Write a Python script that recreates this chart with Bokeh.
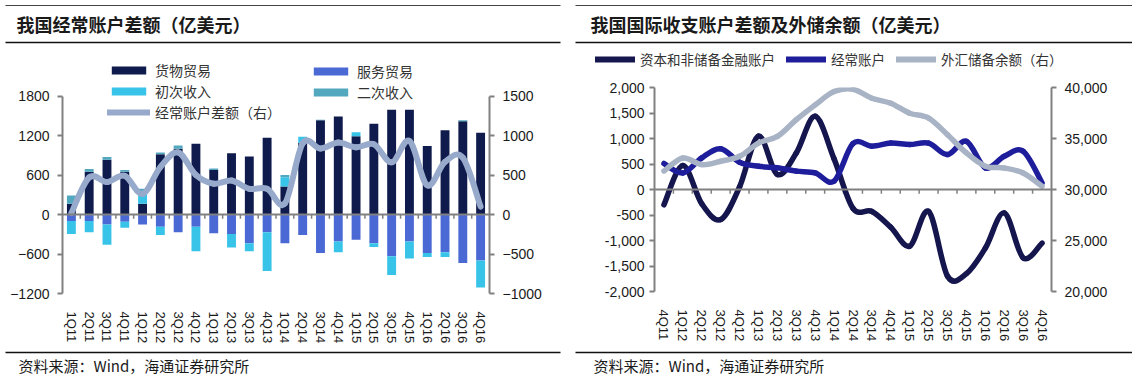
import numpy as np
from bokeh.plotting import figure
from bokeh.layouts import row, column
from bokeh.models import (Range1d, LinearAxis, FixedTicker, Span, Legend, LegendItem,
                          Label, BoxAnnotation, NumeralTickFormatter, ColumnDataSource)
from bokeh.embed import file_html
from bokeh.resources import INLINE

# ------------------------------------------------------------------ data (left panel)
quarters_l = ["1Q11", "2Q11", "3Q11", "4Q11", "1Q12", "2Q12", "3Q12", "4Q12",
              "1Q13", "2Q13", "3Q13", "4Q13", "1Q14", "2Q14", "3Q14", "4Q14",
              "1Q15", "2Q15", "3Q15", "4Q15", "1Q16", "2Q16", "3Q16", "4Q16"]
goods = [165, 650, 830, 650, 165, 915, 1000, 1075, 675, 930, 880, 1165,
         425, 1090, 1430, 1490, 1190, 1380, 1590, 1590, 1040, 1280, 1415, 1240]
services = [-100, -100, -150, -110, -150, -185, -270, -185, -285, -295, -435, -270,
            -435, -310, -585, -410, -385, -435, -635, -410, -585, -575, -735, -700]
primary_income = [-195, -170, -310, -90, 175, -125, 0, -375, 0, -205, -125, -590,
                  140, 90, 0, -165, 60, -60, -285, -260, -60, -70, 0, -410]
secondary_income = [125, 40, 45, 25, 50, 25, 50, 0, 25, 0, 0, 0,
                    35, 0, 10, 0, 0, 0, 0, 0, 0, 0, 15, 0]
current_account_l = [20, 470, 410, 490, 260, 600, 785, 500, 390, 430, 325, 325,
                     140, 900, 835, 910, 850, 890, 660, 930, 370, 665, 720, 100]
left_ticks = [-1200, -600, 0, 600, 1200, 1800]
right_ticks_l = [-1000, -500, 0, 500, 1000, 1500]

# ------------------------------------------------------------------ data (right panel)
quarters_r = ["4Q11", "1Q12", "2Q12", "3Q12", "4Q12", "1Q13", "2Q13", "3Q13", "4Q13",
              "1Q14", "2Q14", "3Q14", "4Q14", "1Q15", "2Q15", "3Q15", "4Q15",
              "1Q16", "2Q16", "3Q16", "4Q16"]
capital_financial = [-300, 470, -280, -590, 50, 1045, 295, 715, 1435, 600, -370, -430,
                     -740, -1110, -430, -1700, -1650, -1150, -460, -1340, -1050]
current_account_r = [510, 325, 620, 800, 535, 455, 425, 360, 325, 165, 900, 850,
                     910, 880, 910, 685, 945, 425, 650, 750, 130]
fx_reserves = [31810, 33090, 32440, 32770, 33250, 34550, 35200, 36840, 38300, 39600,
               39830, 38950, 38460, 37480, 37000, 35370, 33580, 32280, 32110, 31620, 30320]
left_ticks_r = [-2000, -1500, -1000, -500, 0, 500, 1000, 1500, 2000]
right_ticks_r = [20000, 25000, 30000, 35000, 40000]

TITLE_L = "我国经常账户差额（亿美元）"
TITLE_R = "我国国际收支账户差额及外储余额（亿美元）"
SOURCE = "资料来源：Wind，海通证券研究所"

CJK = "Noto Sans CJK SC"
LAT = "Liberation Sans"
AX = "#808080"

C_GOODS, C_SERV, C_PRIM, C_SEC, C_CA_L = "#0f1b4c", "#4a69d4", "#38c4e8", "#52a8bf", "#97aacb"
C_CAP, C_CA, C_FX = "#16164f", "#1e1e9c", "#a8b3c5"

W = 566  # width of each panel
FOOT_H = 30


def smooth(xs, ys):
    """Bezier control points (Catmull-Rom style) so a line through the data looks smoothed."""
    xs = np.asarray(xs, float)
    ys = np.asarray(ys, float)
    n = len(xs)
    xp = np.concatenate([[xs[0]], xs, [xs[-1]]])
    yp = np.concatenate([[ys[0]], ys, [ys[-1]]])
    p0x, p1x, p2x, p3x = xp[0:n - 1], xp[1:n], xp[2:n + 1], xp[3:n + 2]
    p0y, p1y, p2y, p3y = yp[0:n - 1], yp[1:n], yp[2:n + 1], yp[3:n + 2]
    return dict(x0=p1x, y0=p1y, x1=p2x, y1=p2y,
                cx0=p1x + (p2x - p0x) / 6, cy0=p1y + (p2y - p0y) / 6,
                cx1=p2x - (p3x - p1x) / 6, cy1=p2y - (p3y - p1y) / 6)


def blank(width, height):
    p = figure(width=width, height=height, x_range=Range1d(0, width), y_range=Range1d(height, 0),
               min_border=0, toolbar_location=None, output_backend="svg",
               x_axis_location=None, y_axis_location=None, frame_align=False)
    p.grid.visible = False
    p.outline_line_color = None
    return p


def rule(p, left, right, y, thick, color="#111111"):
    p.add_layout(BoxAnnotation(left=left, right=right, top=y - thick / 2, bottom=y + thick / 2,
                               fill_color=color, fill_alpha=1, line_color=None))


def header(title, tx, rl, rr, height):
    p = blank(W, height)
    rule(p, rl, rr, 5, 1.2, "#444444")
    rule(p, rl, rr, 42, 1.6)
    p.add_layout(Label(x=tx, y=23, text=title, text_font=CJK, text_font_size="18px",
                       text_font_style="bold", text_baseline="middle", text_color="#1a1a1a"))
    return p


def footer(tx, rl, rr):
    p = blank(W, FOOT_H)
    rule(p, rl, rr, 6, 1.6)
    p.add_layout(Label(x=tx, y=19, text=SOURCE, text_font=CJK, text_font_size="15px",
                       text_baseline="middle", text_color="#1a1a1a"))
    return p


def style_yaxis(ax, ticks, bounds, standoff, fmt=None):
    ax.ticker = FixedTicker(ticks=ticks)
    ax.bounds = bounds
    ax.axis_line_color = AX
    ax.axis_line_width = 2
    ax.major_tick_line_color = AX
    ax.major_tick_line_width = 2
    ax.major_tick_out = 5
    ax.major_tick_in = 0
    ax.minor_tick_line_color = None
    ax.major_label_text_font = LAT
    ax.major_label_text_font_size = "14px"
    ax.major_label_text_color = "#1a1a1a"
    ax.major_label_standoff = standoff
    if fmt is not None:
        ax.formatter = fmt


def style_xaxis(ax, labels, standoff):
    ax.ticker = FixedTicker(ticks=list(range(len(labels))))
    ax.major_label_overrides = {i: q for i, q in enumerate(labels)}
    ax.major_label_orientation = "vertical"
    ax.axis_line_color = None
    ax.major_tick_line_color = None
    ax.minor_tick_line_color = None
    ax.major_label_text_font = LAT
    ax.major_label_text_font_size = "13px"
    ax.major_label_text_color = "#1a1a1a"
    ax.major_label_standoff = standoff


def legend_style(lg, gw, gh, size):
    lg.border_line_color = None
    lg.background_fill_alpha = 0
    lg.padding = 0
    lg.margin = 0
    lg.glyph_width = gw
    lg.glyph_height = gh
    lg.label_standoff = 5
    lg.label_height = 17
    lg.spacing = 1
    lg.label_text_font = CJK
    lg.label_text_font_size = size
    lg.label_text_color = "#333333"


# ------------------------------------------------------------------ left chart
n = len(quarters_l)
xl = np.arange(n)
pl = figure(width=W, height=298, x_range=Range1d(-0.5, n - 0.5), y_range=Range1d(-1200, 2400),
            toolbar_location=None, output_backend="svg", frame_align=False,
            min_border_left=62, min_border_right=W - 489, min_border_top=8, min_border_bottom=48)
pl.extra_y_ranges = {"r": Range1d(-1000, 2000)}
pl.grid.visible = False
pl.outline_line_color = None

prim = np.asarray(primary_income, float)
sec = np.asarray(secondary_income, float)
src = ColumnDataSource(dict(x=xl, goods=goods, services=services,
                            prim_pos=np.clip(prim, 0, None), prim_neg=np.clip(prim, None, 0),
                            sec_pos=np.clip(sec, 0, None), sec_neg=np.clip(sec, None, 0)))
pos = pl.vbar_stack(["goods", "prim_pos", "sec_pos"], x="x", width=0.5,
                    color=[C_GOODS, C_PRIM, C_SEC], line_color=None, source=src)
neg = pl.vbar_stack(["services", "prim_neg", "sec_neg"], x="x", width=0.5,
                    color=[C_SERV, C_PRIM, C_SEC], line_color=None, source=src)

pl.add_layout(Span(location=0, dimension="width", line_color=AX, line_width=2))
bx = xl[:-1] + 0.5
pl.segment(x0=bx, y0=np.zeros(len(bx)), x1=bx, y1=np.full(len(bx), -65.0),
           line_color=AX, line_width=1.5)

ca_l = pl.bezier(**smooth(xl, current_account_l), y_range_name="r",
                 line_color=C_CA_L, line_width=6, line_cap="round")

style_yaxis(pl.yaxis[0], left_ticks, (-1200, 1800), 8)
ra = LinearAxis(y_range_name="r")
style_yaxis(ra, right_ticks_l, (-1000, 1500), 8)
pl.add_layout(ra, "right")
style_xaxis(pl.xaxis[0], quarters_l, 12)

legA = Legend(items=[LegendItem(label="货物贸易", renderers=[pos[0]]),
                     LegendItem(label="初次收入", renderers=[neg[1]]),
                     LegendItem(label="经常账户差额（右）", renderers=[ca_l])],
              location=(45, 171))
legB = Legend(items=[LegendItem(label="服务贸易", renderers=[neg[0]]),
                     LegendItem(label="二次收入", renderers=[pos[2]])],
              location=(247, 191))
for lg in (legA, legB):
    legend_style(lg, 43, 10, "14px")
    pl.add_layout(lg)

# ------------------------------------------------------------------ right chart
m = len(quarters_r)
xr = np.arange(m)
pr = figure(width=W, height=270, x_range=Range1d(-0.5, m - 0.5), y_range=Range1d(-2000, 2000),
            toolbar_location=None, output_backend="svg", frame_align=False,
            min_border_left=88, min_border_right=W - 485, min_border_top=11, min_border_bottom=55)
pr.extra_y_ranges = {"r": Range1d(20000, 40000)}
pr.grid.visible = False
pr.outline_line_color = None

pr.add_layout(Span(location=0, dimension="width", line_color=AX, line_width=2))
bxr = xr[:-1] + 0.5
pr.segment(x0=bxr, y0=np.zeros(len(bxr)), x1=bxr, y1=np.full(len(bxr), -85.0),
           line_color=AX, line_width=1.5)

r_cap = pr.bezier(**smooth(xr, capital_financial), line_color=C_CAP, line_width=5.5, line_cap="round")
r_ca = pr.bezier(**smooth(xr, current_account_r), line_color=C_CA, line_width=5.5, line_cap="round")
r_fx = pr.bezier(**smooth(xr, fx_reserves), y_range_name="r", line_color=C_FX,
                 line_width=5.5, line_cap="round")

style_yaxis(pr.yaxis[0], left_ticks_r, (-2000, 2000), 5, NumeralTickFormatter(format="0,0"))
rb = LinearAxis(y_range_name="r")
style_yaxis(rb, right_ticks_r, (20000, 40000), 8, NumeralTickFormatter(format="0,0"))
pr.add_layout(rb, "right")
style_xaxis(pr.xaxis[0], quarters_r, 12)

# header of the right panel carries its one-row legend (legend keys only: NaN data, nothing drawn)
hr = header(TITLE_R, 24, 9, W, 76)
nan = np.array([np.nan])
k_cap = hr.line(x=nan, y=nan, line_color=C_CAP, line_width=6, line_cap="round")
k_ca = hr.line(x=nan, y=nan, line_color=C_CA, line_width=6, line_cap="round")
k_fx = hr.line(x=nan, y=nan, line_color=C_FX, line_width=6, line_cap="round")
legR = Legend(items=[LegendItem(label="资本和非储备金融账户", renderers=[k_cap]),
                     LegendItem(label="经常账户", renderers=[k_ca]),
                     LegendItem(label="外汇储备余额（右）", renderers=[k_fx])],
              orientation="horizontal", location=(29, 7))
legend_style(legR, 40, 10, "13.5px")
legR.spacing = 11
hr.add_layout(legR)

# ------------------------------------------------------------------ layout
left = column(header(TITLE_L, 16, 5, 560, 48), pl, footer(18, 5, 560), spacing=0)
right = column(hr, pr, footer(27, 9, W), spacing=0)
page = row(left, right, spacing=0)

open("out.html", "w").write(file_html(page, INLINE))
